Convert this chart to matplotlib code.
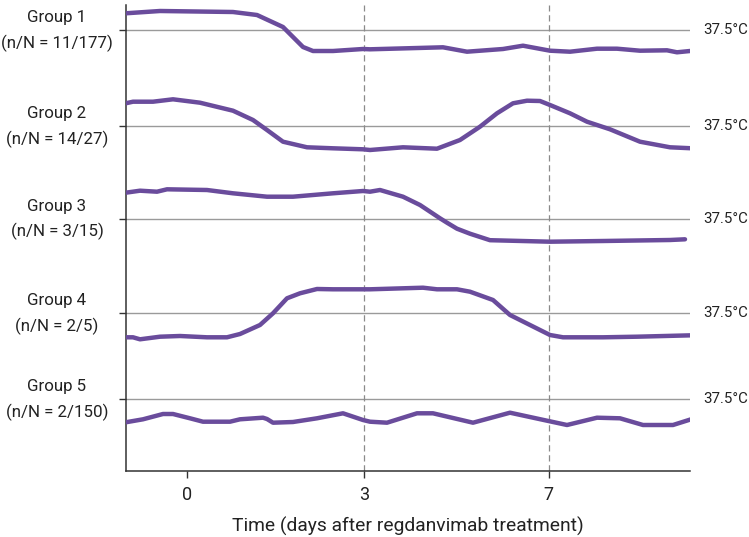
import numpy as np
import matplotlib.pyplot as plt
from matplotlib.transforms import blended_transform_factory

plt.rcParams['font.family'] = ['Roboto', 'DejaVu Sans']

# group labels and where each group's 37.5 line sits (vertical position)
groups = ['Group 1', 'Group 2', 'Group 3', 'Group 4', 'Group 5']
counts = ['(n/N = 11/177)', '(n/N = 14/27)', '(n/N = 3/15)', '(n/N = 2/5)', '(n/N = 2/150)']
levels = [440.7, 344.7, 252.0, 157.4, 71.4]

# time axis positions (schematic axis) and tick labels
tick_pos = [61.5, 238.8, 423.2]
tick_labels = ['0', '3', '7']
dashed_at = [238.8, 423.2]

# temperature traces: position along time axis, offset above the 37.5 line
g1_x = [0.2, 34.5, 107.5, 131.5, 157.5, 177.5, 187.5, 207.5, 237.5, 244.5, 317.5,
        341.5, 377.5, 397.5, 424.5, 444.5, 471.5, 491.5, 514.5, 541.5, 551.5, 564.5]
g1_y = [16.7, 19, 18, 15, 3, -17, -21, -21, -19, -19.3, -17.3,
        -21.7, -19, -15.7, -20.7, -21.7, -18.7, -18.7, -20.7, -20.3, -22.3, -21]

g2_x = [0.2, 7.5, 27.5, 47.5, 74.5, 107.5, 127.5, 141.5, 157.5, 181.5, 207.5, 237.5,
        244.5, 277.5, 311.5, 334.5, 354.5, 371.5, 387.5, 401.5, 414.5, 424.5, 444.5,
        461.5, 484.5, 514.5, 544.5, 566.5]
g2_y = [22.7, 24.3, 24.3, 26.7, 23.3, 15.3, 6, -4, -15.7, -21.3, -22.3, -23.3,
        -24, -21.3, -22.7, -14, -0.7, 12.7, 22.7, 25.3, 25, 21, 12.7,
        4.3, -3.3, -15.7, -21.3, -22.3]

g3_x = [0.2, 14.5, 31.5, 41.5, 81.5, 107.5, 141.5, 167.5, 207.5, 237.5, 244.5,
        254.5, 277.5, 294.5, 314.5, 321.5, 331.5, 344.5, 364.5, 424.5, 477.5,
        544.5, 559.5]
g3_y = [26, 28, 27, 29.4, 28.7, 25.4, 22, 22, 25.4, 27.7, 27,
        28.7, 22, 13.7, 0.4, -4, -10, -15, -21.5, -23, -22.3,
        -21.3, -20.6]

g4_x = [0.2, 7.5, 14.5, 34.5, 54.5, 81.5, 101.5, 114.5, 134.5, 147.5, 161.5,
        174.5, 191.5, 207.5, 237.5, 244.5, 297.5, 311.5, 331.5, 344.5, 367.5,
        384.5, 404.5, 424.5, 437.5, 477.5, 511.5, 566.5]
g4_y = [-24, -24, -26, -23.4, -22.7, -24, -24, -20.7, -11.7, 0, 15,
        20, 24.3, 24, 24, 24, 25.6, 24, 24, 21.6, 13.3,
        -1.7, -11.7, -21.7, -24, -24, -23.4, -22]

g5_x = [0.2, 17.5, 37.5, 47.5, 64.5, 77.5, 104.5, 114.5, 137.5, 141.5, 147.5,
        167.5, 191.5, 217.5, 237.5, 244.5, 261.5, 291.5, 307.5, 347.5, 384.5,
        421.5, 441.5, 471.5, 494.5, 517.5, 547.5, 566.5]
g5_y = [-23, -20, -14.7, -14.7, -19, -22.4, -22.4, -20, -18.4, -19.7, -23.4,
        -22.7, -19, -14, -20.7, -22.4, -23.4, -14, -14, -23.4, -13.4,
        -21.4, -25.7, -18.4, -19, -25.7, -25.7, -19.7]

traces = [(g1_x, g1_y), (g2_x, g2_y), (g3_x, g3_y), (g4_x, g4_y), (g5_x, g5_y)]

purple = '#6a4c9c'

fig = plt.figure(figsize=(7.49, 5.37), dpi=100)
ax = fig.add_axes([125.5 / 749, 66.3 / 537, 564.5 / 749, 465.7 / 537])

for lvl, (xs, ys) in zip(levels, traces):
    ax.axhline(lvl, color='#9a9a9a', lw=1.0, zorder=1)
    ax.plot(xs, lvl + np.array(ys), color=purple, lw=3.2,
            solid_capstyle='round', solid_joinstyle='round', zorder=3)

for xd in dashed_at:
    ax.axvline(xd, color='#8a8a8a', lw=0.9, ls=(0, (5, 3)), zorder=2)

ax.set_xlim(0, 564.5)
ax.set_ylim(0, 465.7)

ax.spines['top'].set_visible(False)
ax.spines['right'].set_visible(False)
for s in ['left', 'bottom']:
    ax.spines[s].set_color('#333333')
    ax.spines[s].set_linewidth(1.1)

ax.set_yticks(levels)
ax.set_yticklabels([])
ax.tick_params(axis='y', length=5, width=1.0, color='#333333')

ax.set_xticks(tick_pos)
ax.set_xticklabels(tick_labels)
ax.tick_params(axis='x', length=5, width=1.0, color='#333333', pad=6,
               labelsize=13, labelcolor='#222222')
ax.set_xlabel('Time (days after regdanvimab treatment)', fontsize=13.9,
              color='#222222', labelpad=9)

# row labels on the left and the 37.5 marker on the right
tr = blended_transform_factory(fig.transFigure, ax.transData)
for lvl, g, c in zip(levels, groups, counts):
    ax.text(57 / 749, lvl + 12.5, g, transform=tr, ha='center', va='center',
            fontsize=12.2, color='#222222')
    ax.text(57 / 749, lvl - 13, c, transform=tr, ha='center', va='center',
            fontsize=12.2, color='#222222')
    ax.text(703 / 749, lvl, '37.5°C', transform=tr, ha='left', va='center',
            fontsize=10.8, color='#222222')

fig.savefig('out.png', dpi=100)
